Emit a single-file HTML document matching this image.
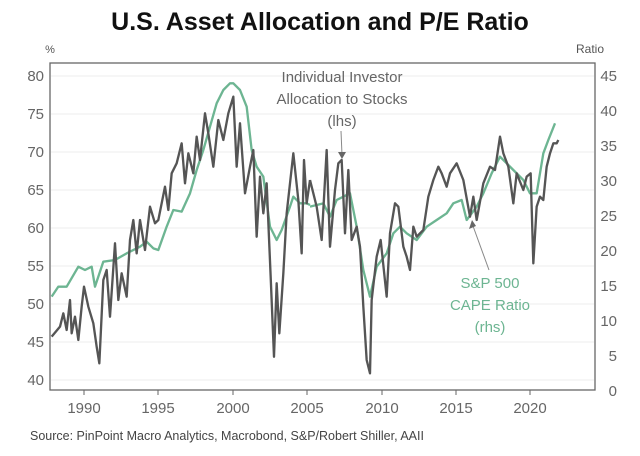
<!DOCTYPE html><html><head><style>body{margin:0;background:#fff}svg{display:block}text{font-family:"Liberation Sans",sans-serif}</style></head><body>
<svg width="640" height="456" viewBox="0 0 640 456" xmlns="http://www.w3.org/2000/svg">
<text x="320" y="30" text-anchor="middle" font-size="25" font-weight="bold" fill="#111">U.S. Asset Allocation and P/E Ratio</text>
<text x="50" y="53" text-anchor="middle" font-size="11" fill="#555">%</text>
<text x="590" y="53" font-size="12" fill="#555" text-anchor="middle">Ratio</text>
<g stroke="#eee" stroke-width="1">
<line x1="51" x2="594" y1="76" y2="76"/><line x1="51" x2="594" y1="114" y2="114"/><line x1="51" x2="594" y1="152" y2="152"/><line x1="51" x2="594" y1="190" y2="190"/><line x1="51" x2="594" y1="228" y2="228"/><line x1="51" x2="594" y1="266" y2="266"/><line x1="51" x2="594" y1="304" y2="304"/><line x1="51" x2="594" y1="342" y2="342"/><line x1="51" x2="594" y1="380" y2="380"/>
</g>
<rect x="50" y="63" width="545" height="327" fill="none" stroke="#666" stroke-width="1.3"/>
<g font-size="15" fill="#666" text-anchor="end">
<text x="44" y="81">80</text><text x="44" y="119">75</text><text x="44" y="157">70</text><text x="44" y="195">65</text><text x="44" y="233">60</text><text x="44" y="271">55</text><text x="44" y="309">50</text><text x="44" y="347">45</text><text x="44" y="385">40</text>
</g>
<g font-size="15" fill="#666" text-anchor="end">
<text x="617" y="81">45</text><text x="617" y="116">40</text><text x="617" y="151">35</text><text x="617" y="186">30</text><text x="617" y="221">25</text><text x="617" y="256">20</text><text x="617" y="291">15</text><text x="617" y="326">10</text><text x="617" y="361">5</text><text x="617" y="396">0</text>
</g>
<g stroke="#666" stroke-width="1"><line x1="84" x2="84" y1="390" y2="395"/><line x1="158" x2="158" y1="390" y2="395"/><line x1="233" x2="233" y1="390" y2="395"/><line x1="307" x2="307" y1="390" y2="395"/><line x1="382" x2="382" y1="390" y2="395"/><line x1="456" x2="456" y1="390" y2="395"/><line x1="530" x2="530" y1="390" y2="395"/></g>
<g font-size="15" fill="#666" text-anchor="middle">
<text x="84" y="413">1990</text><text x="158" y="413">1995</text><text x="233" y="413">2000</text><text x="307" y="413">2005</text><text x="382" y="413">2010</text><text x="456" y="413">2015</text><text x="530" y="413">2020</text>
</g>
<g fill="none" stroke-linejoin="round">
<g transform="translate(0,40) scale(0.33333)">
<polyline stroke="#6db592" stroke-width="7" points="155,770 175,740 200,740 235,680 255,690 275,680 285,740 310,665 345,660 380,640 420,620 440,605 460,625 475,630 500,560 520,510 545,515 570,460 590,390 610,330 650,190 670,150 690,130 700,130 720,150 740,200 755,330 770,380 790,410 810,560 830,600 845,570 870,500 880,470 900,490 920,490 930,495"/>
<polyline stroke="#555" stroke-width="7" points="155,890 180,860 190,820 200,870 210,780 215,880 225,830 235,900 245,800 252,740 265,800 280,850 290,920 298,970 310,720 320,690 330,830 345,610 355,780 365,700 380,770 390,600 400,540 410,640 420,540 435,630 450,500 465,550 475,540 495,440 505,510 515,400 530,370 545,310 555,430 565,340 580,400 590,290 600,360 615,220 625,280 640,380 655,240 670,300 685,220 700,170 710,380 720,250 735,460 750,380 760,330 770,590 780,410 790,520 800,430 812,710 822,950 830,730 838,880 850,700 860,520 870,430 880,340 895,480 905,640 912,360 920,490 930,420"/>
</g>
<g transform="translate(310,40) scale(0.33333)">
<polyline stroke="#6db592" stroke-width="7" points="0,500 40,490 60,530 80,480 100,470 120,460 140,560 160,690 180,770 200,680 230,640 250,580 270,560 290,580 320,600 350,560 380,540 410,520 430,490 455,480 470,540 500,500 520,460 545,400 570,350 590,370 610,390 640,420 660,460 680,460 700,340 715,300 735,250"/>
<polyline stroke="#555" stroke-width="7" points="0,420 20,500 35,600 50,330 60,620 75,450 85,370 95,360 105,580 115,390 125,600 140,560 150,620 160,800 170,960 180,1000 185,780 200,650 212,600 230,770 240,580 255,490 265,500 280,620 290,650 300,690 310,560 320,590 340,570 355,470 370,420 385,380 395,400 410,440 420,400 440,370 460,420 480,530 490,470 500,540 520,430 540,380 555,390 570,290 580,340 595,380 610,490 620,400 640,450 650,410 662,400 670,670 680,500 690,470 700,480 710,380 720,340 730,310 740,310 745,300"/>
</g>
</g>
<g font-size="15" fill="#666" text-anchor="middle">
<text x="342" y="82">Individual Investor</text><text x="342" y="104">Allocation to Stocks</text><text x="342" y="126">(lhs)</text>
</g>
<line x1="341" y1="131" x2="342" y2="155" stroke="#888" stroke-width="1"/>
<polygon points="338,152 346,152 342,159" fill="#666"/>
<g font-size="15" fill="#6db592" text-anchor="middle">
<text x="490" y="288">S&amp;P 500</text><text x="490" y="310">CAPE Ratio</text><text x="490" y="332">(rhs)</text>
</g>
<line x1="489" y1="270" x2="473" y2="226" stroke="#888" stroke-width="1"/>
<polygon points="469,229 476,226 472,220" fill="#666"/>
<text x="30" y="440" font-size="12.5" fill="#444">Source: PinPoint Macro Analytics, Macrobond, S&amp;P/Robert Shiller, AAII</text>
</svg>
</body></html>
